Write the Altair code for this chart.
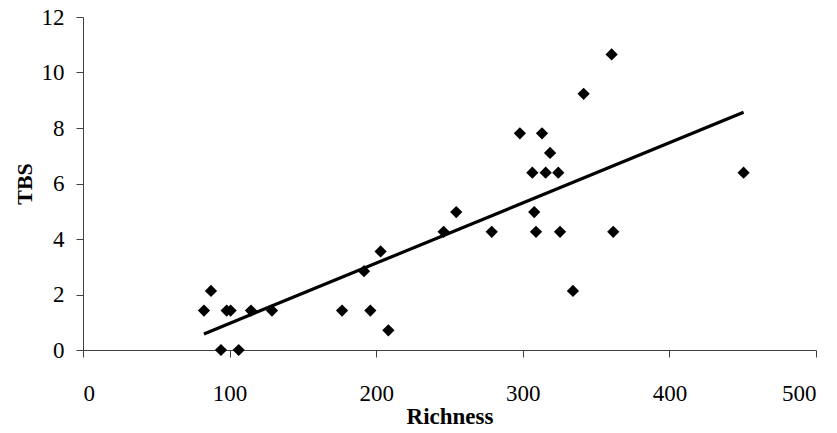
import altair as alt
import pandas as pd

richness = [82.5, 87.3, 94.1, 98.0, 100.7, 106.2, 114.6, 128.9, 176.7, 191.7,
            196.0, 203.0, 208.3, 246.0, 254.6, 278.8, 298.0, 306.5, 307.8, 309.0,
            313.1, 315.6, 318.6, 324.2, 325.4, 334.2, 341.5, 360.6, 361.7, 450.6]
tbs = [1.42, 2.13, 0.0, 1.42, 1.42, 0.0, 1.42, 1.42, 1.42, 2.84,
       1.42, 3.55, 0.71, 4.26, 4.97, 4.26, 7.81, 6.39, 4.97, 4.26,
       7.81, 6.39, 7.10, 6.39, 4.26, 2.13, 9.23, 10.65, 4.26, 6.39]

df = pd.DataFrame({"Richness": richness, "TBS": tbs})

FONT = "Liberation Serif"
AX = "#404040"

x = alt.X("Richness:Q", title="Richness",
          scale=alt.Scale(domain=[0, 500], nice=False, zero=True),
          axis=alt.Axis(values=[0, 100, 200, 300, 400, 500], grid=False,
                        tickSize=7, labelPadding=25, titlePadding=0,
                        domainColor=AX, tickColor=AX, labelColor="black",
                        labelFont=FONT, labelFontSize=23, labelFontWeight="normal",
                        titleFont=FONT, titleFontSize=23, titleFontWeight="bold",
                        titleColor="black"))
y = alt.Y("TBS:Q", title="TBS",
          scale=alt.Scale(domain=[0, 12], nice=False),
          axis=alt.Axis(values=[0, 2, 4, 6, 8, 10, 12], grid=False,
                        tickSize=7, labelPadding=12, titlePadding=5,
                        domainColor=AX, tickColor=AX, labelColor="black",
                        labelFont=FONT, labelFontSize=23,
                        titleFont=FONT, titleFontSize=22, titleFontWeight="bold",
                        titleColor="black"))

points = alt.Chart(df).mark_point(shape="diamond", filled=True, color="black",
                                  size=150, opacity=1).encode(x=x, y=y)
line = alt.Chart(df).transform_regression("Richness", "TBS").mark_line(
    color="black", strokeWidth=3.2).encode(x=x, y=y)

chart = alt.layer(line, points).properties(
    width=733, height=333,
    autosize=alt.AutoSizeParams(type="none"),
    padding={"left": 83, "top": 17, "right": 21, "bottom": 83},
    background="white",
).configure_view(stroke=None)

chart.save("out.html", embed_options={"renderer": "svg", "actions": False})
